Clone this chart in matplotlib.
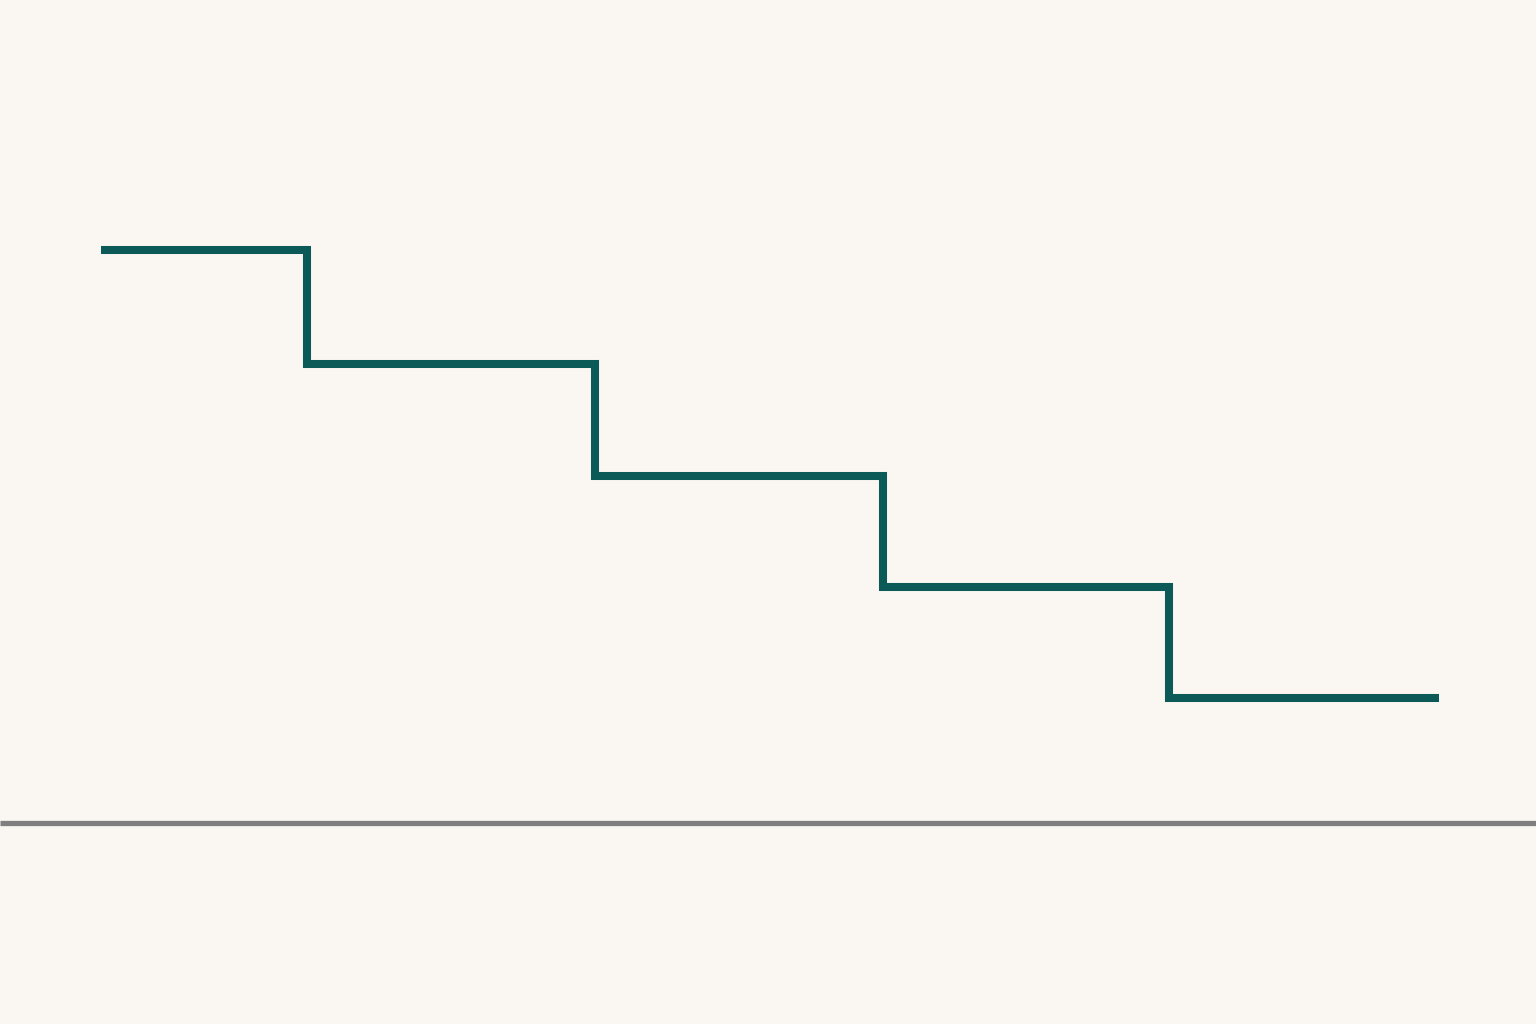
import matplotlib
matplotlib.use("Agg")
from matplotlib import pyplot as plt

# step edges and levels (baseline at 0)
edges = [0, 0.715, 1.715, 2.715, 3.708, 4.646]
levels = [5.12, 4.1, 3.1, 2.11, 1.12]

BG = "#faf7f2"
LINE = "#0b5a58"
BASE = "#7f7f7f"

fig = plt.figure(figsize=(15.36, 10.24), dpi=100, facecolor=BG)
ax = fig.add_axes([0, 0, 1, 1])
ax.set_facecolor(BG)
ax.set_xlim(-101 / 288, (1536 - 101) / 288)
ax.set_ylim(-(1024 - 823) / 112, 823 / 112)
ax.axis("off")

ax.axhline(0, color=BASE, lw=3.8, solid_capstyle="butt")
st = ax.stairs(levels, edges, baseline=None, color=LINE, lw=5.8)
st.set_joinstyle("miter")
st.set_capstyle("butt")

fig.savefig("out.png", dpi=100, facecolor=BG)
